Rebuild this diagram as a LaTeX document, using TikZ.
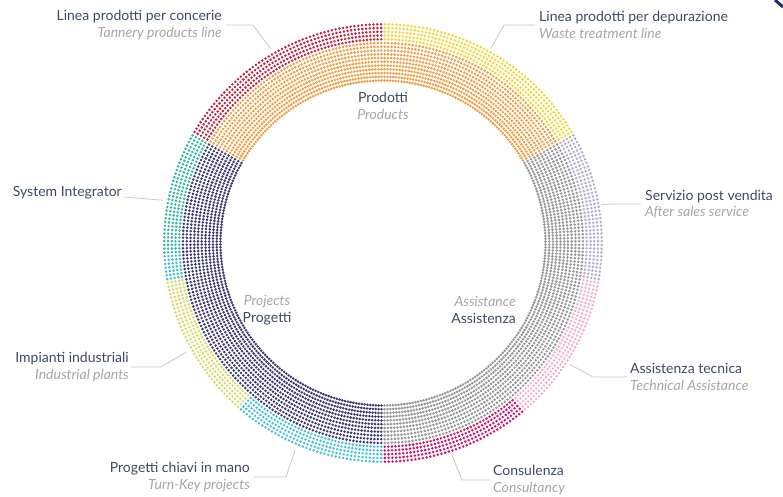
\documentclass[tikz,border=0pt]{standalone}
\usepackage{fontspec}
\setmainfont{Lato}
\usepackage{xcolor}
\usetikzlibrary{positioning,calc}

\definecolor{tannery}{HTML}{C0223F}
\definecolor{waste}{HTML}{F2D531}
\definecolor{prodotti}{HTML}{EE9C40}
\definecolor{sysint}{HTML}{33BA9E}
\definecolor{sysint2}{HTML}{40C0C6}
\definecolor{impianti}{HTML}{D6D963}
\definecolor{turnkey}{HTML}{45C0DA}
\definecolor{progetti}{HTML}{3A3772}
\definecolor{assist}{HTML}{959595}
\definecolor{postv}{HTML}{B3B0C4}
\definecolor{tecnica}{HTML}{F2AECA}
\definecolor{consul}{HTML}{D0126A}
\definecolor{ink}{HTML}{3C4A66}
\definecolor{sub}{HTML}{A6A6A6}
\definecolor{navy}{HTML}{1B2F6B}

\begin{document}
\begin{tikzpicture}[
  x=1pt, y=1pt,
  font=\fontsize{14}{16.5}\selectfont,
  lbl/.style={text=ink, inner sep=0pt},
  mid/.style={text=ink, inner sep=0pt, align=center},
  lead/.style={draw=black!22, line width=0.8pt},
  dotrow/.style={line width=2.8pt, line cap=round}
]
\useasboundingbox (-383,-254) rectangle (400,243);

% inner band: the three main areas
\foreach \a/\b/\c in {-90/30/assist, 30/150/prodotti, 150/270/progetti}{
  \foreach \k in {0,...,10}{
    \pgfmathsetmacro\r{162.5+3.75*\k}
    \pgfmathsetmacro\gap{\r*pi/180}
    \draw[dotrow, draw=\c, dash pattern={on 0pt off \gap pt}]
      (\a+0.5:\r) arc[start angle=\a+0.5, end angle=\b, radius=\r];
  }
}

% outer band: the single lines of business
\foreach \a/\b/\c in {-90/-50/consul, -50/-10/tecnica, -10/30/postv, 30/90/waste,
                      90/150/tannery, 150/183/sysint, 183/190/sysint2,
                      190/229/impianti, 229/270/turnkey}{
  \foreach \k in {11,...,15}{
    \pgfmathsetmacro\r{162.5+3.75*\k}
    \pgfmathsetmacro\gap{\r*pi/180}
    \draw[dotrow, draw=\c, dash pattern={on 0pt off \gap pt}]
      (\a+0.5:\r) arc[start angle=\a+0.5, end angle=\b, radius=\r];
  }
}

% labels inside the ring
\node[mid] (prod) at (0,137) {Prodotti\\\textcolor{sub}{\itshape Products}};
\node[mid] (prog) at (-116,-67) {\textcolor{sub}{\itshape Projects}\\Progetti};
\node[lbl, align=right, anchor=east] (assi) at (133,-67) {\textcolor{sub}{\itshape Assistance}\\Assistenza};

% labels round the ring
\node[lbl, align=right, anchor=east] (tanl) at (-161,218) {Linea prodotti per concerie\\\textcolor{sub}{\itshape Tannery products line}};
\node[lbl, align=left, anchor=west] (wasl) at (156,218) {Linea prodotti per depurazione\\\textcolor{sub}{\itshape Waste treatment line}};
\node[lbl, anchor=base east] (sysl) at (-261,46) {System Integrator};
\node[lbl, align=right, anchor=east] (impl) at (-254,-124) {Impianti industriali\\\textcolor{sub}{\itshape Industrial plants}};
\node[lbl, align=right, anchor=east] (turl) at (-133,-234) {Progetti chiavi in mano\\\textcolor{sub}{\itshape Turn-Key projects}};
\node[lbl, align=left, anchor=west] (conl) at (110,-237) {Consulenza\\\textcolor{sub}{\itshape Consultancy}};
\node[lbl, align=left, anchor=west] (tecl) at (247,-134) {Assistenza tecnica\\\textcolor{sub}{\itshape Technical Assistance}};
\node[lbl, align=left, anchor=west] (serl) at (262,39) {Servizio post vendita\\\textcolor{sub}{\itshape After sales service}};

% ends of the leaders on the ring
\coordinate (tanp) at (120:224);
\coordinate (wasp) at (61:222);
\coordinate (sysp) at (169:224);
\coordinate (impp) at (209:225);
\coordinate (turp) at (247:225);
\coordinate (conp) at (-72:223);
\coordinate (tecp) at (-33:223);
\coordinate (serp) at (10:222);

\draw[lead] ([xshift=4pt]tanl.east) -- ++(27,0) -- (tanp);
\draw[lead] ([xshift=-4pt]wasl.west) -- ++(-31,0) -- (wasp);
\draw[lead] ([xshift=2pt]sysl.base east) -- (sysp);
\draw[lead] ([xshift=2pt]impl.east) -- ++(30,0) -- (impp);
\draw[lead] ([xshift=4pt]turl.east) -- ++(32,0) -- (turp);
\draw[lead] ([xshift=-3pt]conl.west) -- ++(-28,0) -- (conp);
\draw[lead] ([xshift=-3pt]tecl.west) -- ++(-34,0) -- (tecp);
\draw[lead] ([xshift=-4pt]serl.west) -- ++(-26,0) -- (serp);

% corner of the page
\draw[navy, line width=3pt] (392,243) .. controls (396,240) .. (400,236);
\end{tikzpicture}
\end{document}
